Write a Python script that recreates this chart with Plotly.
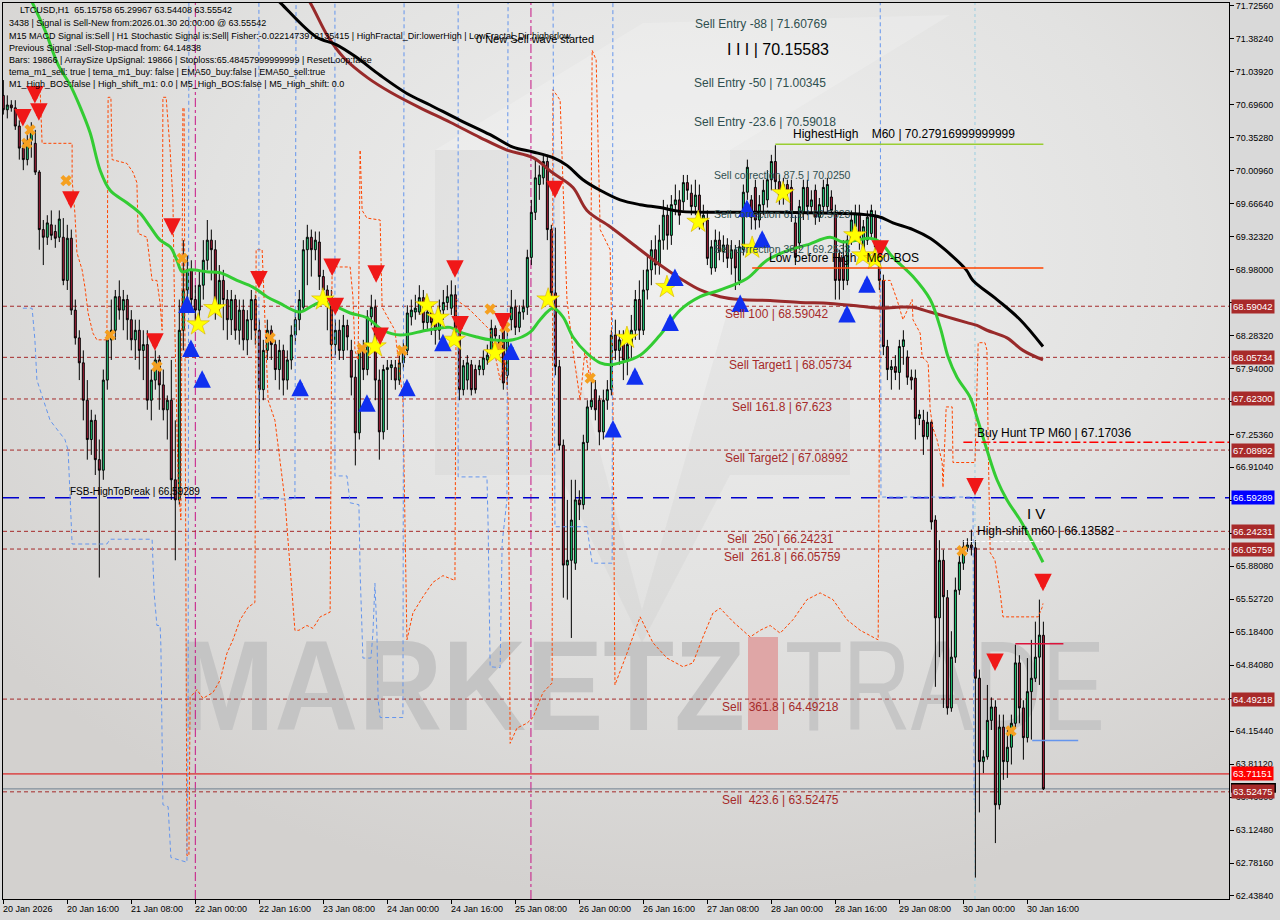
import base64
import plotly.graph_objects as go

# ---------------- DATA ----------------
opens = [
70.79,70.64,70.69,70.66,70.47,70.24,70.12,70.32,70.29,69.99,
69.39,69.31,69.44,69.37,69.31,69.31,68.86,69.30,68.55,68.26,
68.00,67.61,67.20,67.40,66.99,66.88,67.82,68.24,68.34,68.69,
68.55,68.66,68.45,68.24,68.34,68.13,68.19,67.61,67.82,68.03,
67.77,67.51,67.61,66.78,66.57,68.34,68.76,68.97,68.66,68.55,
68.81,69.07,69.28,69.18,68.60,68.86,68.66,68.45,68.66,68.34,
68.55,68.24,68.45,68.66,68.34,67.72,68.13,68.34,68.19,67.93,
68.13,67.82,68.03,68.29,68.45,68.58,69.18,69.31,69.18,69.26,
68.90,68.76,68.69,68.19,68.34,68.13,68.39,68.13,67.85,67.27,
68.13,67.93,68.48,68.58,67.82,67.28,67.93,67.95,67.95,67.82,
68.00,68.13,68.48,68.53,68.53,68.68,68.42,68.53,68.42,68.34,
68.55,68.63,68.57,68.71,68.32,67.72,67.82,67.98,67.93,67.93,
67.93,68.03,68.10,68.36,68.24,68.34,67.87,68.45,68.58,68.37,
68.53,68.58,69.10,69.57,69.86,69.93,70.10,69.39,68.73,67.96,
67.14,65.89,65.94,65.91,66.57,66.52,67.17,67.54,67.72,67.61,
67.28,67.61,67.72,68.29,68.13,68.24,68.03,68.19,68.34,68.66,
68.34,68.76,68.97,69.18,69.02,69.28,69.54,69.33,69.65,69.70,
69.68,69.88,69.77,69.63,69.75,69.49,69.49,68.99,68.99,69.28,
69.16,69.23,69.09,69.18,68.86,69.18,69.78,69.70,69.83,69.49,
69.65,69.70,69.91,70.10,69.89,69.75,69.86,69.83,69.46,69.25,
69.56,69.83,69.63,69.80,69.52,69.63,69.63,69.73,69.56,69.10,
69.10,68.86,69.28,69.42,69.56,69.15,69.28,69.35,69.52,69.21,
68.86,68.17,67.93,67.96,67.90,68.17,68.06,67.85,67.84,67.42,
67.40,67.23,67.38,66.36,65.34,65.94,65.55,64.40,64.93,65.63,
65.91,66.07,66.10,66.07,64.71,63.84,63.89,64.27,64.41,63.39,
64.20,63.84,63.99,64.24,64.87,64.40,64.09,64.57,64.71,64.93,
65.15758]

highs = [
70.95,70.79,70.74,70.74,70.53,70.32,70.38,70.51,70.43,70.01,
69.49,69.54,69.59,69.44,69.59,69.51,69.44,69.39,68.66,68.34,
68.13,67.82,67.51,67.46,67.20,67.93,68.34,68.66,68.76,68.86,
68.76,68.71,68.55,68.45,68.45,68.34,68.34,67.93,68.13,68.08,
67.93,67.66,68.03,67.40,68.66,69.28,69.12,69.07,68.81,68.97,
69.28,69.49,69.39,69.28,69.02,68.97,68.76,68.76,68.71,68.66,
68.66,68.55,68.76,68.71,68.45,68.24,68.45,68.39,68.24,68.24,
68.19,68.13,68.39,68.55,68.76,69.28,69.44,69.39,69.37,69.37,
68.97,68.81,68.76,68.45,68.45,68.50,68.45,68.24,68.03,68.19,
68.24,68.55,68.71,68.66,67.93,67.98,68.03,68.03,68.03,68.08,
68.24,68.60,68.66,68.71,68.81,68.76,68.60,68.60,68.50,68.66,
68.76,68.81,68.86,68.81,68.39,68.03,68.08,68.03,67.98,68.03,
68.13,68.19,68.45,68.39,68.29,68.45,68.34,68.76,68.66,68.60,
68.66,69.18,69.70,70.12,70.06,70.17,70.17,69.44,69.41,68.03,
67.20,66.57,66.78,66.78,66.67,67.25,67.61,67.82,67.82,67.66,
67.72,67.82,68.34,68.45,68.34,68.34,68.29,68.50,68.76,68.86,
68.97,69.12,69.28,69.33,69.44,69.70,69.65,69.75,69.86,69.80,
69.96,69.96,69.86,69.91,69.86,69.65,69.59,69.28,69.39,69.37,
69.33,69.30,69.28,69.23,69.28,69.86,70.12,69.75,69.91,69.75,
69.91,70.01,70.17,70.27,69.96,69.93,69.91,69.91,69.54,69.70,
69.91,69.91,69.80,69.86,69.72,69.91,69.93,69.80,69.65,69.18,
69.28,69.33,69.59,69.65,69.65,69.49,69.59,69.65,69.59,69.28,
68.92,68.24,68.03,68.08,68.24,68.34,68.13,67.93,67.93,67.51,
67.51,67.49,67.40,66.41,66.15,66.05,65.63,65.20,65.76,65.99,
66.15,66.17,66.26,66.15,64.80,63.96,64.64,64.51,64.48,64.33,
64.33,64.17,64.33,65.06,64.95,64.48,64.92,65.11,65.30,65.53,
65.29967]

lows = [
70.59,70.55,70.62,70.43,70.12,70.01,70.06,70.14,69.96,69.18,
69.02,69.23,69.28,69.20,69.26,68.81,68.76,68.50,68.19,67.82,
67.40,66.99,67.04,66.83,65.76,66.78,67.72,68.03,68.24,68.45,
68.34,68.24,68.13,68.03,67.93,67.82,67.51,67.40,67.72,67.51,
67.40,67.20,66.57,65.94,66.52,68.13,68.66,68.55,68.45,68.45,
68.66,68.97,68.86,68.45,68.50,68.34,68.24,68.29,68.24,68.19,
68.13,68.08,68.24,68.19,67.09,67.61,68.03,68.03,67.82,67.72,
67.66,67.72,67.93,68.19,68.34,68.55,68.81,68.90,69.07,68.76,
68.66,68.34,68.03,68.08,68.03,68.03,68.13,67.66,66.93,67.20,
67.82,67.87,68.39,67.61,66.99,67.20,67.30,67.82,67.72,67.77,
67.93,68.08,68.39,68.45,68.50,68.34,68.34,68.29,68.19,68.24,
68.45,68.55,68.50,68.24,67.61,67.66,67.72,67.66,67.68,67.87,
67.87,67.98,68.03,68.19,68.08,67.72,67.77,68.34,68.29,68.32,
68.45,68.50,69.02,69.49,69.70,69.86,69.28,68.66,67.87,67.09,
65.55,65.53,65.13,65.84,66.36,66.47,67.09,67.51,67.40,67.14,
67.20,67.51,67.66,68.03,67.98,67.82,67.87,68.03,68.24,68.24,
68.29,68.66,68.81,68.92,68.92,69.18,69.18,69.23,69.54,69.44,
69.59,69.70,69.54,69.54,69.39,69.39,69.02,68.92,68.95,69.07,
69.05,68.99,68.92,68.76,68.81,69.12,69.70,69.39,69.39,69.41,
69.54,69.62,69.80,69.80,69.65,69.65,69.70,69.47,69.02,69.18,
69.49,69.54,69.57,69.44,69.47,69.57,69.57,69.54,68.66,68.66,
68.76,68.81,69.23,69.39,69.18,69.09,69.23,69.28,69.12,68.76,
68.08,67.82,67.72,67.82,67.72,67.98,67.77,67.72,67.20,67.35,
67.04,67.20,66.26,64.62,64.93,64.40,64.33,64.36,64.87,65.58,
65.84,66.03,65.99,62.63,63.31,63.72,63.86,64.17,62.99,63.34,
63.65,63.67,63.81,64.19,64.24,63.86,64.04,64.07,64.67,64.64,
63.54408]

closes = [
70.64,70.69,70.66,70.47,70.24,70.12,70.32,70.45,69.99,69.39,
69.31,69.46,69.33,69.30,69.50,68.86,69.30,68.55,68.26,68.00,
67.61,67.20,67.40,66.99,66.88,67.82,68.24,68.34,68.69,68.55,
68.66,68.45,68.24,68.34,68.13,68.19,67.61,67.82,68.03,67.77,
67.51,67.61,66.78,66.57,68.34,68.76,68.97,68.66,68.55,68.81,
69.07,69.28,69.18,68.60,68.86,68.66,68.45,68.66,68.34,68.55,
68.24,68.45,68.66,68.34,67.72,68.13,68.34,68.19,67.93,68.13,
67.82,68.03,68.29,68.45,68.66,69.18,69.31,69.18,69.28,68.90,
68.76,68.66,68.19,68.34,68.13,68.39,68.27,67.85,67.27,68.13,
67.93,68.48,68.58,67.82,67.28,67.93,67.95,67.98,67.82,68.00,
68.13,68.52,68.55,68.57,68.68,68.42,68.53,68.42,68.34,68.55,
68.63,68.69,68.71,68.32,67.72,67.97,68.00,67.72,67.72,67.97,
68.05,68.08,68.36,68.28,68.13,67.79,68.24,68.58,68.37,68.53,
68.58,69.10,69.57,69.93,69.96,70.10,69.39,68.73,67.96,67.14,
65.89,65.94,66.36,66.57,66.52,67.17,67.54,67.61,67.51,67.28,
67.61,67.72,68.29,68.13,68.24,68.03,68.19,68.34,68.66,68.34,
68.76,68.97,69.18,69.02,69.28,69.54,69.33,69.65,69.70,69.54,
69.88,69.80,69.63,69.75,69.49,69.54,69.09,69.21,69.28,69.16,
69.23,69.09,69.18,68.99,69.21,69.78,70.04,69.52,69.49,69.65,
69.80,69.91,70.10,69.89,69.75,69.86,69.80,69.56,69.10,69.63,
69.83,69.63,69.70,69.52,69.65,69.83,69.86,69.59,68.86,68.86,
68.86,69.28,69.49,69.56,69.28,69.42,69.52,69.59,69.21,68.86,
68.17,67.93,67.96,67.90,68.17,68.24,67.85,67.82,67.42,67.46,
67.23,67.38,66.34,65.34,65.94,65.56,64.40,64.93,65.63,65.92,
66.08,66.10,66.07,64.71,63.84,63.89,64.27,64.41,63.39,64.20,
63.84,63.99,64.24,64.87,64.40,64.09,64.57,64.71,64.93,65.16,
63.55542]

date_tick_idx = [0, 16, 32, 48, 64, 80, 96, 112, 128, 144, 160, 176, 192, 208, 224, 240, 256]
date_tick_labels = ["20 Jan 2026", "20 Jan 16:00", "21 Jan 08:00", "22 Jan 00:00", "22 Jan 16:00",
                    "23 Jan 08:00", "24 Jan 00:00", "24 Jan 16:00", "25 Jan 08:00", "26 Jan 00:00",
                    "26 Jan 16:00", "27 Jan 08:00", "28 Jan 00:00", "28 Jan 16:00", "29 Jan 08:00",
                    "30 Jan 00:00", "30 Jan 16:00"]

price_tick_vals = [71.7256, 71.38163, 71.03766, 70.69369, 70.34972, 70.00575, 69.66178, 69.31781,
                   68.97384, 68.62987, 68.2859, 67.94193, 67.59796, 67.25399, 66.91002, 66.56605,
                   66.22208, 65.87811, 65.53414, 65.19017, 64.8462, 64.50223, 64.15826, 63.81429,
                   63.47032, 63.12635, 62.78238, 62.43841]
# labels that sit behind the level boxes in the reference are left blank
price_tick_labels = ["71.72560", "71.38240", "71.03920", "70.69600", "70.35280", "70.00960", "69.66640",
                     "69.32320", "68.98000", "", "68.28320", "67.94000", "", "67.25360",
                     "66.91040", "", "", "65.88080", "65.52720", "65.18400", "64.84080",
                     "", "64.15440", "63.81120", "63.46800", "63.12480", "62.78160", "62.43840"]

green_idx = [6.2,10.4,13.7,16.7,19.2,21.7,24.2,26.7,30.9,34.2,36.7,39.2,41.7,43.4,44.7,46.7,50.9,54.2,58.4,62.4,
             65.9,69.2,72.4,74.2,79.2,82.4,86.7,90.9,94.9,99.2,105.9,111.7,114.2,118.4,121.7,127.4,131.7,134.2,
             137.4,139.9,142.4,145.9,149.2,151.7,154.2,159.2,164.2,169.2,174.2,179.2,185.9,190.9,196.7,200.9,
             206.7,209.9,213.4,216.7,219.2,222.4,227.4,231.7,234.2,236.2,238.4,241.7,243.4,245.9,248.4,250.9,
             254.2,257.4,259.9]
green_val = [71.85,71.47,71.11,70.90,70.67,70.40,70.01,69.80,69.67,69.56,69.42,69.28,69.21,69.07,68.95,68.97,
             68.95,68.94,68.86,68.79,68.69,68.62,68.55,68.53,68.63,68.60,68.52,68.47,68.34,68.29,68.34,68.37,
             68.32,68.27,68.24,68.24,68.32,68.45,68.57,68.48,68.27,68.10,68.00,67.98,68.00,68.08,68.29,68.55,
             68.69,68.76,68.88,69.07,69.18,69.23,69.31,69.26,69.28,69.30,69.26,69.10,68.90,68.66,68.37,68.06,
             67.85,67.64,67.43,67.09,66.78,66.57,66.36,66.12,65.92]

black_idx = [67.2,69.4,78.2,83.2,88.2,94.2,100.9,106.7,114.2,121.7,127.4,132.4,137.4,140.9,144.9,149.2,154.2,
             159.2,164.2,169.2,194.2,218.4,222.4,227.4,231.7,235.4,240.7,242.4,248.4,254.2,259.9]
black_val = [71.84,71.75,71.40,71.32,71.19,71.00,70.81,70.69,70.53,70.38,70.25,70.20,70.14,70.06,69.91,69.80,
             69.70,69.65,69.62,69.58,69.57,69.53,69.46,69.39,69.30,69.18,68.97,68.86,68.66,68.45,68.17]

brown_idx = [74.9,76.2,81.2,85.2,91.2,96.9,104.2,111.7,119.2,125.9,132.4,137.4,142.4,145.9,151.7,159.2,164.2,
             169.2,174.2,179.2,184.2,191.7,199.2,206.7,214.2,219.2,223.4,227.4,231.7,235.9,240.9,243.4,245.9,
             250.9,254.9,259.9]
brown_val = [71.84,71.79,71.40,71.18,70.97,70.82,70.66,70.51,70.35,70.22,70.14,69.98,69.83,69.59,69.42,69.18,
             69.02,68.88,68.76,68.69,68.66,68.65,68.63,68.62,68.59,68.57,68.58,68.58,68.53,68.48,68.42,68.39,
             68.34,68.26,68.13,68.03]

orange_idx = [9.2,9.7,17.2,17.2,17.9,18.4,19.7,20.4,21.2,22.4,23.4,25.9,26.2,26.9,27.2,30.9,32.4,33.4,33.7,35.9,
              37.2,38.4,39.2,39.7,39.9,40.7,41.7,42.4,42.9,43.7,44.4,44.9,45.2,45.7,45.9,46.4,46.7,48.4,49.9,52.4,
              54.2,55.9,57.4,59.2,61.2,62.9,63.2,64.7,66.2,67.9,70.4,72.9,73.9,75.9,77.4,79.2,81.7,82.2,83.4,86.7,
              87.4,87.9,88.7,89.2,89.7,90.9,94.2,94.7,97.9,99.9,100.9,102.4,104.9,107.4,109.9,112.9,113.2,116.7,
              121.7,124.2,125.4,126.2,126.7,128.4,130.9,132.4,134.9,137.2,137.4,139.2,140.9,142.4,144.2,145.4,
              146.7,147.2,148.2,149.2,151.7,152.4,152.9,155.9,159.2,162.4,165.9,169.9,172.4,174.9,177.4,179.2,
              182.4,186.7,189.2,191.7,194.2,197.4,200.9,204.2,207.4,210.9,214.2,218.7,219.2,221.7,223.4,224.9,
              227.2,227.4,229.2,229.7,231.2,231.7,232.4,233.4,234.7,234.9,235.7,237.2,237.4,242.9,243.7,245.4,
              245.9,246.2,246.7,247.9,249.2,249.9,258.7,259.7,259.9]
orange_val = [70.85,70.29,70.29,69.91,69.56,69.15,68.97,68.79,68.52,68.31,68.24,68.24,70.77,70.77,70.12,70.08,
              69.99,69.88,69.35,69.31,68.86,68.86,68.62,68.34,70.77,70.77,70.22,69.70,68.34,66.78,66.36,70.66,
              70.66,65.53,62.86,62.86,64.51,64.59,64.50,64.56,64.69,64.97,65.11,65.32,65.45,65.50,69.18,69.18,
              67.61,67.40,66.57,65.21,65.21,65.26,65.23,65.35,65.40,69.07,69.00,69.00,68.69,68.13,68.03,70.22,
              69.59,69.51,69.49,68.58,68.34,67.61,65.11,65.39,65.56,65.71,65.78,65.73,68.66,68.55,68.34,67.82,
              68.03,67.61,64.03,64.19,64.24,64.30,64.56,64.66,70.85,70.74,68.66,68.13,67.61,68.13,67.82,71.26,
              71.16,69.39,69.18,67.61,64.64,64.97,65.35,65.08,64.92,64.83,64.87,65.14,65.39,65.44,65.30,65.14,
              65.21,65.26,65.18,65.32,65.53,65.60,65.53,65.32,65.21,65.11,68.86,68.86,68.66,68.45,68.66,68.45,
              68.31,68.06,68.00,67.51,67.32,67.20,66.96,66.70,67.54,67.54,66.96,66.96,68.21,68.21,68.13,67.16,
              66.02,65.94,65.60,65.35,65.35,65.45,65.49]

blue_idx = [4.9,7.2,7.9,8.4,11.7,15.4,16.2,16.7,17.2,25.9,26.7,37.2,37.7,38.4,39.2,39.4,39.7,39.9,41.2,41.9,
            45.9,46.2,46.4,63.9,63.9,72.9,73.2,82.9,82.9,85.9,86.7,88.9,89.2,89.9,91.9,92.4,92.9,93.4,93.7,94.2,
            99.9,100.2,113.7,113.7,120.9,121.2,121.7,124.2,124.7,125.9,126.2,137.4,137.9,145.9,147.2,152.2,152.4,
            219.2,219.4,242.4,242.7]
blue_val = [68.57,68.57,68.24,67.82,67.40,67.20,67.09,66.50,66.11,66.11,66.16,66.16,65.60,65.26,65.26,65.04,
            64.10,63.39,63.37,62.84,62.79,64.20,72.10,72.10,66.58,66.58,72.10,72.10,66.82,66.82,66.54,66.52,
            65.81,64.92,64.92,65.18,65.70,65.18,64.48,64.30,64.30,72.10,72.10,66.81,66.81,66.29,64.83,64.82,
            66.12,66.57,72.10,72.10,66.29,66.29,65.91,65.91,72.10,72.10,66.60,66.60,63.44]

red_arrow_idx = [4.9,7.9,8.9,16.9,37.9,42.2,63.9,82.2,83.0,93.2,94.2,112.9,114.2,124.9,137.9,219.2,242.9,247.9,259.9]
red_arrow_val = [70.55,70.79,70.61,69.69,68.21,69.41,68.86,68.99,68.58,68.92,68.27,68.97,68.39,68.42,69.80,69.18,
                 66.70,64.87,65.70]
blue_arrow_idx = [45.9,46.9,49.7,74.2,90.9,100.9,109.9,126.9,152.4,157.9,166.7,167.9,184.2,185.9,189.7,210.9,215.9]
blue_arrow_val = [68.62,68.16,67.84,67.75,67.59,67.75,68.22,68.13,67.32,67.87,68.43,68.90,68.63,69.62,69.30,68.52,68.83]
star_idx = [48.7,52.9,79.9,92.9,105.9,108.7,112.7,122.9,136.2,155.9,165.9,173.7,187.2,194.9,212.9,214.9,217.9]
star_val = [68.40,68.57,68.66,68.17,68.60,68.47,68.24,68.10,68.66,68.26,68.79,69.47,69.20,69.77,69.33,69.12,69.08]
cross_idx = [5.9,6.7,15.7,26.7,38.4,44.7,66.7,89.7,99.7,121.7,123.7,125.4,146.7,239.7,251.9]
cross_val = [70.29,70.43,69.90,68.29,67.96,69.09,68.26,68.15,68.13,68.56,68.17,68.37,67.84,66.04,64.16]

level_vals = [68.59042, 68.05734, 67.62300, 67.08992, 66.24231, 66.05759, 64.49218, 63.52475]
level_names = ["Sell 100 | 68.59042", "Sell Target1 | 68.05734", "Sell 161.8 | 67.623",
               "Sell Target2 | 67.08992", "Sell\u00a0 250 | 66.24231", "Sell\u00a0 261.8 | 66.05759",
               "Sell\u00a0 361.8 | 64.49218", "Sell\u00a0 423.6 | 63.52475"]
level_label_idx = [193.4, 196.7, 194.7, 195.9, 194.4, 194.7, 194.2, 194.2]

fsb_level = 66.59289
red_line_level = 63.71151
bid_level = 63.55542
buy_hunt_level = 67.17036
highest_high_level = 70.27917
low_before_high_level = 68.99
high_shift_level = 66.13582
crimson_short_level = 65.07
blue_short_level = 64.06

info_lines = [
    "LTCUSD,H1  65.15758 65.29967 63.54408 63.55542",
    "3438 | Signal is Sell-New from:2026.01.30 20:00:00 @ 63.55542",
    "M15 MACD Signal is:Sell | H1 Stochastic Signal is:Sell| Fisher:-0.0221473972135415 | HighFractal_Dir:lowerHigh | LowFractal_Dir:higherlow",
    "Previous Signal :Sell-Stop-macd from: 64.14838",
    "Bars: 19866 | ArraySize UpSignal: 19866 | Stoploss:65.48457999999999 | ResetLoop:false",
    "tema_m1_sell: true | tema_m1_buy: false | EMA50_buy:false | EMA50_sell:true",
    "M1_High_BOS:false | High_shift_m1: 0.0 | M5_High_BOS:false | M5_High_shift: 0.0",
]

# ---------------- FIGURE ----------------
FONT = "Liberation Sans"
bars = list(range(len(opens)))
fig = go.Figure()

fig.add_trace(go.Scatter(x=orange_idx, y=orange_val, mode="lines",
                         line=dict(color="#FF4500", width=1, dash="3px,2px"), hoverinfo="skip"))
fig.add_trace(go.Scatter(x=blue_idx, y=blue_val, mode="lines",
                         line=dict(color="#6495ED", width=1, dash="4px,3px"), hoverinfo="skip"))

fig.add_trace(go.Candlestick(
    x=bars, open=opens, high=highs, low=lows, close=closes,
    increasing=dict(fillcolor="#1ED47A", line=dict(color="#000000", width=1)),
    decreasing=dict(fillcolor="#B0203C", line=dict(color="#000000", width=1)),
    whiskerwidth=0, hoverinfo="skip"))

fig.add_trace(go.Scatter(x=brown_idx, y=brown_val, mode="lines", line=dict(color="#982A2A", width=3),
                         line_shape="spline", hoverinfo="skip"))
fig.add_trace(go.Scatter(x=black_idx, y=black_val, mode="lines", line=dict(color="#000000", width=3),
                         line_shape="spline", hoverinfo="skip"))
fig.add_trace(go.Scatter(x=green_idx, y=green_val, mode="lines", line=dict(color="#33CC33", width=3),
                         line_shape="spline", hoverinfo="skip"))

fig.add_trace(go.Scatter(x=cross_idx, y=cross_val, mode="markers", hoverinfo="skip",
                         marker=dict(symbol="x", size=10, color="#F5A020", line=dict(width=0))))
fig.add_trace(go.Scatter(x=star_idx, y=star_val, mode="markers", hoverinfo="skip",
                         marker=dict(symbol="star", size=17, color="#FFFF00",
                                     line=dict(color="#D8B000", width=0.6))))

# ---- background picture: soft light centre, faint logo and the watermark (drawn below the traces)
svg = """<svg xmlns='http://www.w3.org/2000/svg' width='1226' height='896' viewBox='0 0 1226 896'>
<defs><radialGradient id='g' cx='0.56' cy='0.28' r='0.72'>
<stop offset='0' stop-color='#F0F0F0'/><stop offset='0.55' stop-color='#E2E2E1'/>
<stop offset='1' stop-color='#D3D1CF'/></radialGradient></defs>
<rect width='1226' height='896' fill='url(#g)'/>
<polygon points='432,147 557,147 557,472 432,472' fill='rgba(120,120,120,0.06)'/>
<polygon points='727,147 847,147 847,472 727,472' fill='rgba(120,120,120,0.06)'/>
<polygon points='557,300 639,607 727,300 727,472 639,640 557,472' fill='rgba(120,120,120,0.06)'/>
<polygon points='432,147 640,20 947,12 727,147' fill='rgba(255,255,255,0.18)'/>
<text x='175' y='727' font-family='Liberation Sans' font-weight='bold' font-size='128'
 textLength='567' lengthAdjust='spacingAndGlyphs' fill='#C4C4C4'>MARKETZ</text>
<rect x='745' y='634' width='30' height='93' fill='#DFA6A6'/>
<text x='782' y='727' font-family='Liberation Sans' font-size='128'
 textLength='320' lengthAdjust='spacingAndGlyphs' fill='#C6C6C6'>TRADE</text>
</svg>"""
bg_src = "data:image/svg+xml;base64," + base64.b64encode(svg.encode("utf-8")).decode("ascii")

shapes = []
# vertical separators
for vx, col, dsh in [(48, "#C71585", "dashdot"), (131.9, "#C71585", "dashdot"), (242.9, "#9CCFE0", "dot")]:
    shapes.append(dict(type="line", xref="x", yref="paper", x0=vx, x1=vx, y0=0, y1=1,
                       line=dict(color=col, width=1, dash=dsh), layer="below"))
# full-width horizontal levels
for lv in level_vals:
    shapes.append(dict(type="line", xref="paper", yref="y", x0=0, x1=1, y0=lv, y1=lv,
                       line=dict(color="#A52A2A", width=1, dash="4px,3px"), layer="below"))
shapes.append(dict(type="line", xref="paper", yref="y", x0=0, x1=1, y0=fsb_level, y1=fsb_level,
                   line=dict(color="#0000CD", width=1.5, dash="16px,10px"), layer="below"))
shapes.append(dict(type="line", xref="paper", yref="y", x0=0, x1=1, y0=red_line_level, y1=red_line_level,
                   line=dict(color="#E00000", width=1), layer="below"))
shapes.append(dict(type="line", xref="paper", yref="y", x0=0, x1=1, y0=bid_level, y1=bid_level,
                   line=dict(color="#708090", width=1), layer="below"))
# partial horizontal lines
shapes.append(dict(type="line", xref="x", yref="y", x0=240, x1=306.4, y0=buy_hunt_level, y1=buy_hunt_level,
                   line=dict(color="#FF0000", width=1.5, dash="dashdot")))
shapes.append(dict(type="line", xref="x", yref="y", x0=193, x1=260, y0=highest_high_level, y1=highest_high_level,
                   line=dict(color="#9ACD32", width=1.5)))
shapes.append(dict(type="line", xref="x", yref="y", x0=187.2, x1=260, y0=low_before_high_level,
                   y1=low_before_high_level, line=dict(color="#FF4500", width=1.5)))
shapes.append(dict(type="line", xref="x", yref="y", x0=240, x1=260, y0=high_shift_level, y1=high_shift_level,
                   line=dict(color="#FFFFFF", width=1, dash="4px,2px")))
shapes.append(dict(type="line", xref="x", yref="y", x0=253, x1=265, y0=crimson_short_level,
                   y1=crimson_short_level, line=dict(color="#DC143C", width=1.5)))
shapes.append(dict(type="line", xref="x", yref="y", x0=257.2, x1=268.7, y0=blue_short_level,
                   y1=blue_short_level, line=dict(color="#6495ED", width=1.5)))
# black bid-price tag peeking above the last level tag on the price scale
shapes.append(dict(type="rect", xref="paper", yref="y", x0=1.0016, x1=1.0383, y0=bid_level - 0.04,
                   y1=bid_level + 0.062, fillcolor="#000000", line=dict(width=0)))

ann = []
# signal arrows (block arrows centred on each signal point)
for xi, yv in zip(red_arrow_idx, red_arrow_val):
    ann.append(dict(x=xi, y=yv, xref="x", yref="y", text="", showarrow=True, ax=0, ay=-17, yshift=-8,
                    arrowhead=2, arrowsize=0.7, arrowwidth=5, arrowcolor="#F01818"))
for xi, yv in zip(blue_arrow_idx, blue_arrow_val):
    ann.append(dict(x=xi, y=yv, xref="x", yref="y", text="", showarrow=True, ax=0, ay=17, yshift=8,
                    arrowhead=2, arrowsize=0.7, arrowwidth=5, arrowcolor="#1030F0"))

# info block
info_y = [0.9922, 0.9777, 0.9632, 0.9498, 0.9364, 0.9230, 0.9096]
for k, (txt, yy) in enumerate(zip(info_lines, info_y)):
    ann.append(dict(text=txt, xref="paper", yref="paper", x=0.0122 if k == 0 else 0.0033, y=yy,
                    xanchor="left", yanchor="middle", showarrow=False,
                    font=dict(family=FONT, size=9, color="#000000")))

# level labels
for nm, lv, li in zip(level_names, level_vals, level_label_idx):
    ann.append(dict(text=nm, x=li, y=lv, xref="x", yref="y", showarrow=False, xanchor="center",
                    yanchor="middle", yshift=-8, font=dict(family=FONT, size=12, color="#A52A2A")))

chart_texts = [
    ("Sell Entry -88 | 71.60769", 172.4, 71.53, 12, "#2F4F4F"),
    ("I I I | 70.15583", 180.4, 71.27, 16, "#000000"),
    ("Sell Entry -50 | 71.00345", 172.2, 70.92, 12, "#2F4F4F"),
    ("Sell Entry -23.6 | 70.59018", 172.2, 70.51, 12, "#2F4F4F"),
    ("HighestHigh\u00a0\u00a0\u00a0 M60 | 70.27916999999999", 196.9, 70.39, 12, "#000000"),
    ("Sell correction 87.5 | 70.0250", 177.2, 69.96, 10.5, "#2F4F4F"),
    ("Sell correction 61.8 | 69.5623", 177.2, 69.55, 10.5, "#2F4F4F"),
    ("Sell correction 38.2 | 69.2533", 177.2, 69.19, 10.5, "#2F4F4F"),
    ("Low before High\u00a0\u00a0 M60-BOS", 190.9, 69.09, 12, "#000000"),
    ("Buy Hunt TP M60 | 67.17036", 242.9, 67.27, 12, "#000000"),
    ("High-shift m60 | 66.13582", 242.9, 66.25, 12, "#000000"),
    ("I V", 255.4, 66.43, 15, "#000000"),
    ("FSB-HighToBreak | 66.59289", 16.2, 66.66, 10, "#000000"),
    ("0 New Sell wave started", 117.7, 71.38, 11, "#000000"),
]
for txt, xi, yv, sz, col in chart_texts:
    ann.append(dict(text=txt, x=xi, y=yv, xref="x", yref="y", showarrow=False, xanchor="left",
                    yanchor="middle", font=dict(family=FONT, size=sz, color=col)))

# date labels (left aligned at tick)
for ti, tl in zip(date_tick_idx, date_tick_labels):
    ann.append(dict(text=tl, x=ti, y=0, xref="x", yref="paper", showarrow=False, xanchor="left",
                    yanchor="top", xshift=-2, yshift=-3, font=dict(family=FONT, size=9, color="#000000")))

# right-axis price boxes
box_items = [(lv, "#A82A2A") for lv in level_vals[:-1]] + \
            [(fsb_level, "#0000FF"), (red_line_level, "#FF0000"), (level_vals[-1], "#A82A2A")]
for bv, bc in box_items:
    ann.append(dict(text=f"{bv:.5f}", x=1, y=bv, xref="paper", yref="y", showarrow=False, xanchor="left",
                    yanchor="middle", xshift=2, bgcolor=bc, borderpad=1,
                    font=dict(family=FONT, size=9.5, color="#FFFFFF")))

fig.update_layout(
    width=1280, height=920, margin=dict(l=3, r=51, t=3, b=21, autoexpand=False),
    paper_bgcolor="#D9D9D9", plot_bgcolor="#DCDBD9", showlegend=False,
    shapes=shapes, annotations=ann,
    images=[dict(source=bg_src, xref="paper", yref="paper", x=0, y=1, sizex=1, sizey=1,
                 xanchor="left", yanchor="top", sizing="stretch", layer="below")],
    xaxis=dict(range=[-0.075, 306.4], showgrid=False, zeroline=False, showline=True, mirror=True,
               linecolor="#000000", linewidth=1, ticks="outside", ticklen=4, tickcolor="#000000",
               tickvals=date_tick_idx, showticklabels=False, rangeslider=dict(visible=False)),
    yaxis=dict(range=[62.4068, 71.7538], side="right", showgrid=False, zeroline=False, showline=True,
               mirror=True, linecolor="#000000", linewidth=1, ticks="outside", ticklen=4,
               tickcolor="#000000", tickvals=price_tick_vals, ticktext=price_tick_labels,
               tickfont=dict(family=FONT, size=9, color="#000000")),
)

fig.write_html("out.html", config={"displayModeBar": False},
               post_script="document.body.style.margin='0px';")
